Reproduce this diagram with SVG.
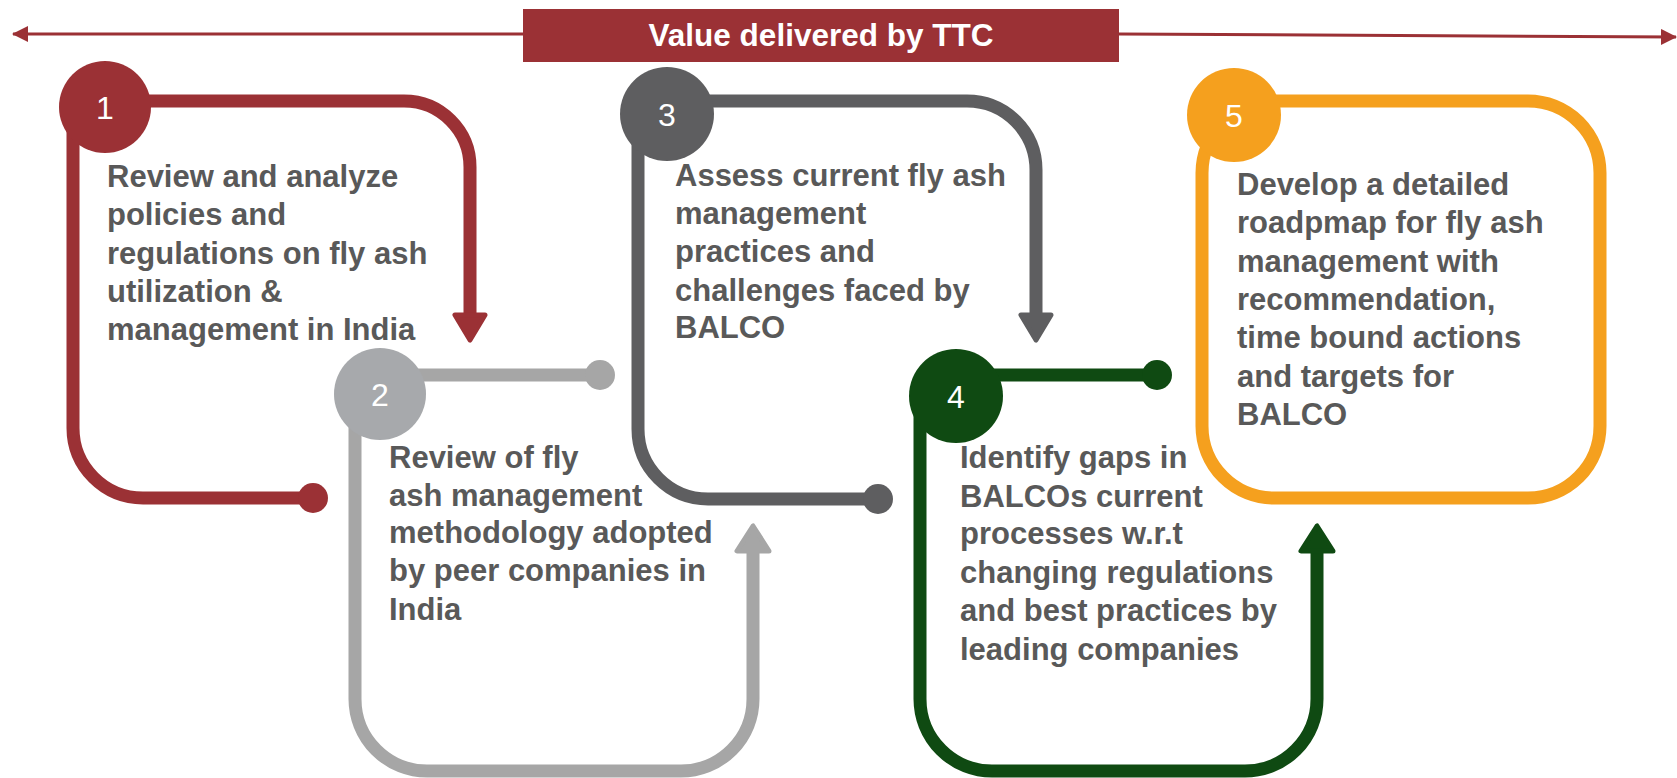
<svg xmlns="http://www.w3.org/2000/svg" width="1677" height="778" viewBox="0 0 1677 778">
<defs>
<style>
.t{font-family:"Liberation Sans",Arial,sans-serif;font-weight:bold;font-size:31px;fill:#595959}
.n{font-family:"Liberation Sans",Arial,sans-serif;font-size:32px;fill:#ffffff;text-anchor:middle}
.loop{fill:none;stroke-width:13}
.head{stroke-width:5;stroke-linejoin:round}
</style>
<marker id="ah" markerUnits="userSpaceOnUse" markerWidth="16" markerHeight="16" viewBox="0 0 16 16" refX="15" refY="8" orient="auto">
<path d="M0,0 L16,8 L0,16 z" fill="#9B3135"/>
</marker>
</defs>
<rect width="1677" height="778" fill="#ffffff"/>
<g id="connectors">
<path d="M523,34 L13,34" stroke="#9B3135" stroke-width="3" fill="none" marker-end="url(#ah)"/>
<path d="M1119,34 L1676,37" stroke="#9B3135" stroke-width="3" fill="none" marker-end="url(#ah)"/>
</g>
<g id="title">
<rect x="523" y="9" width="596" height="53" fill="#9B3135"/>
<text x="821" y="46" font-family="Liberation Sans, Arial, sans-serif" font-weight="bold" font-size="31.5" fill="#ffffff" text-anchor="middle">Value delivered by TTC</text>
</g>
<g id="step1">
<path class="loop" stroke="#9B3135" d="M105,101 H404 A66,66 0 0 1 470,167 V318"/>
<polygon class="head" fill="#9B3135" stroke="#9B3135" points="455,315 485,315 470,340"/>
<path class="loop" stroke="#9B3135" d="M73,110 V428 A70,70 0 0 0 143,498 H313"/>
<circle cx="313" cy="498" r="15" fill="#9B3135"/>
<circle cx="105" cy="107" r="46" fill="#9B3135"/>
<text class="n" x="105" y="119">1</text>
<text class="t" x="107" y="187">Review and analyze</text>
<text class="t" x="107" y="225">policies and</text>
<text class="t" x="107" y="264">regulations on fly ash</text>
<text class="t" x="107" y="302">utilization &amp;</text>
<text class="t" x="107" y="340">management in India</text>
</g>
<g id="step2">
<path class="loop" stroke="#A6A6A6" d="M380,375 H600"/>
<circle cx="600" cy="375" r="15" fill="#A6A6A6"/>
<path class="loop" stroke="#A6A6A6" d="M355,400 V699 A72,72 0 0 0 427,771 H681 A72,72 0 0 0 753,699 V550"/>
<polygon class="head" fill="#A6A6A6" stroke="#A6A6A6" points="737,551 769,551 753,526"/>
<circle cx="380" cy="394" r="46" fill="#A7A9AC"/>
<text class="n" x="380" y="406">2</text>
<text class="t" x="389" y="468">Review of fly</text>
<text class="t" x="389" y="506">ash management</text>
<text class="t" x="389" y="543">methodology adopted</text>
<text class="t" x="389" y="581">by peer companies in</text>
<text class="t" x="389" y="620">India</text>
</g>
<g id="step3">
<path class="loop" stroke="#5E5E60" d="M667,101 H967 A69,69 0 0 1 1036,170 V318"/>
<polygon class="head" fill="#5E5E60" stroke="#5E5E60" points="1021,315 1051,315 1036,340"/>
<path class="loop" stroke="#5E5E60" d="M638,120 V429 A70,70 0 0 0 708,499 H878"/>
<circle cx="878" cy="499" r="15" fill="#5E5E60"/>
<circle cx="667" cy="114" r="47" fill="#5E5E60"/>
<text class="n" x="667" y="126">3</text>
<text class="t" x="675" y="186">Assess current fly ash</text>
<text class="t" x="675" y="224">management</text>
<text class="t" x="675" y="262">practices and</text>
<text class="t" x="675" y="301">challenges faced by</text>
<text class="t" x="675" y="338">BALCO</text>
</g>
<g id="step4">
<path class="loop" stroke="#0F4A12" d="M957,375 H1157"/>
<circle cx="1157" cy="375" r="15" fill="#0F4A12"/>
<path class="loop" stroke="#0F4A12" d="M920,400 V699 A72,72 0 0 0 992,771 H1245 A72,72 0 0 0 1317,699 V550"/>
<polygon class="head" fill="#0F4A12" stroke="#0F4A12" points="1301,551 1333,551 1317,526"/>
<circle cx="956" cy="396" r="47" fill="#0F4A12"/>
<text class="n" x="956" y="408">4</text>
<text class="t" x="960" y="468">Identify gaps in</text>
<text class="t" x="960" y="507">BALCOs current</text>
<text class="t" x="960" y="544">processes w.r.t</text>
<text class="t" x="960" y="583">changing regulations</text>
<text class="t" x="960" y="621">and best practices by</text>
<text class="t" x="960" y="660">leading companies</text>
</g>
<g id="step5">
<rect class="loop" stroke="#F5A01E" x="1202" y="101" width="398" height="397" rx="72"/>
<circle cx="1234" cy="115" r="47" fill="#F5A01E"/>
<text class="n" x="1234" y="127">5</text>
<text class="t" x="1237" y="195">Develop a detailed</text>
<text class="t" x="1237" y="233">roadpmap for fly ash</text>
<text class="t" x="1237" y="272">management with</text>
<text class="t" x="1237" y="310">recommendation,</text>
<text class="t" x="1237" y="348">time bound actions</text>
<text class="t" x="1237" y="387">and targets for</text>
<text class="t" x="1237" y="425">BALCO</text>
</g>
</svg>
